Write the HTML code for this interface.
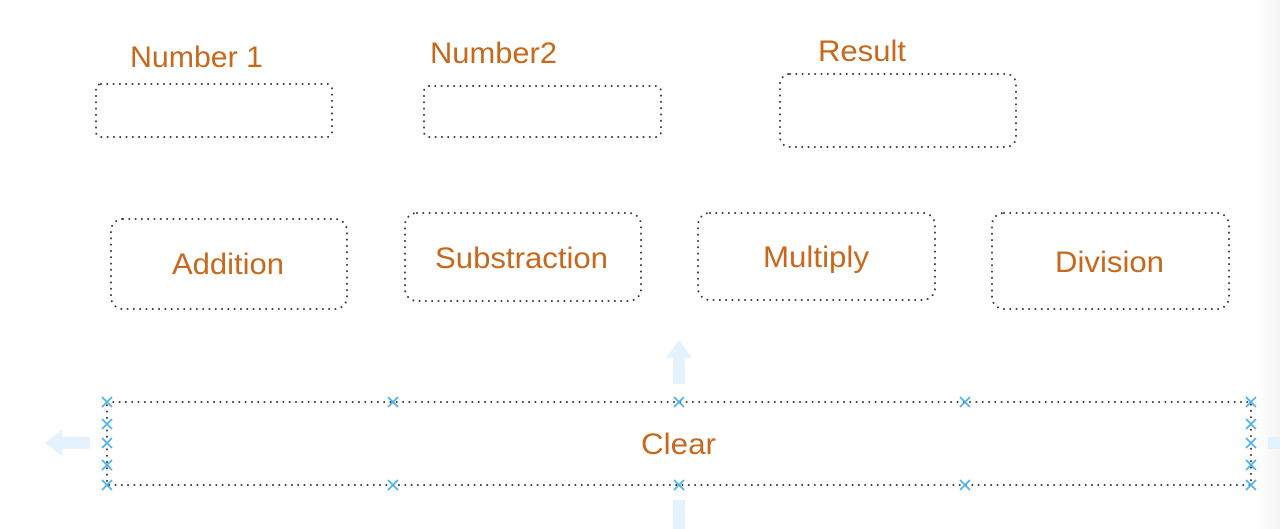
<!DOCTYPE html>
<html><head><meta charset="utf-8"><style>
html,body{margin:0;padding:0;background:#fff;}
svg{display:block;}
text{font-family:"Liberation Sans",sans-serif;fill:#c8681c;}
</style></head><body>
<svg width="1280" height="529" viewBox="0 0 1280 529" xmlns="http://www.w3.org/2000/svg">
<defs>
<linearGradient id="rg" x1="0" x2="1"><stop offset="0" stop-color="#fff"/><stop offset="1" stop-color="#f4f4f4"/></linearGradient>
</defs>
<rect x="1258" y="0" width="22" height="529" fill="url(#rg)"/>
<g fill="none" stroke="#333" stroke-width="2" stroke-dasharray="0 6.3" stroke-linecap="round">
<rect x="96" y="84" width="236" height="53" rx="5"/>
<rect x="424" y="86" width="237" height="51" rx="5"/>
<rect x="780" y="74" width="236" height="73" rx="10"/>
<rect x="111" y="219" width="236" height="90" rx="12"/>
<rect x="405" y="213" width="236" height="88" rx="12"/>
<rect x="698" y="213" width="237" height="87" rx="12"/>
<rect x="992" y="213" width="237" height="96" rx="12"/>
<rect x="107" y="402" width="1144" height="83"/>
</g>
<g font-size="30" lengthAdjust="spacingAndGlyphs">
<text x="130" y="67" textLength="133" lengthAdjust="spacingAndGlyphs">Number 1</text>
<text x="430" y="63" textLength="127" lengthAdjust="spacingAndGlyphs">Number2</text>
<text x="818" y="61" textLength="88" lengthAdjust="spacingAndGlyphs">Result</text>
<text x="172" y="274" textLength="112" lengthAdjust="spacingAndGlyphs">Addition</text>
<text x="435" y="268" textLength="173" lengthAdjust="spacingAndGlyphs">Substraction</text>
<text x="763" y="267" textLength="106" lengthAdjust="spacingAndGlyphs">Multiply</text>
<text x="1055" y="272" textLength="109" lengthAdjust="spacingAndGlyphs">Division</text>
<text x="641" y="454" textLength="75" lengthAdjust="spacingAndGlyphs">Clear</text>
</g>
<g fill="#e3f2fc">
<rect x="673" y="356" width="12" height="28"/>
<polygon points="666,358 679,340 692,358"/>
<polygon points="45,443 62,430 62,456"/>
<rect x="60" y="437" width="30" height="12"/>
<rect x="673" y="500" width="12" height="29"/>
<rect x="1268" y="437" width="12" height="12"/>
</g>
<g stroke="#4db3ea" stroke-width="1.8">
<path d="M102,397l10,10M112,397l-10,10 M388,397l10,10M398,397l-10,10 M674,397l10,10M684,397l-10,10 M960,397l10,10M970,397l-10,10 M1246,397l10,10M1256,397l-10,10
M102,480l10,10M112,480l-10,10 M388,480l10,10M398,480l-10,10 M674,480l10,10M684,480l-10,10 M960,480l10,10M970,480l-10,10 M1246,480l10,10M1256,480l-10,10
M102,419l10,10M112,419l-10,10 M102,438l10,10M112,438l-10,10 M102,460l10,10M112,460l-10,10
M1246,419l10,10M1256,419l-10,10 M1246,438l10,10M1256,438l-10,10 M1246,460l10,10M1256,460l-10,10"/>
</g>
</svg>
</body></html>
